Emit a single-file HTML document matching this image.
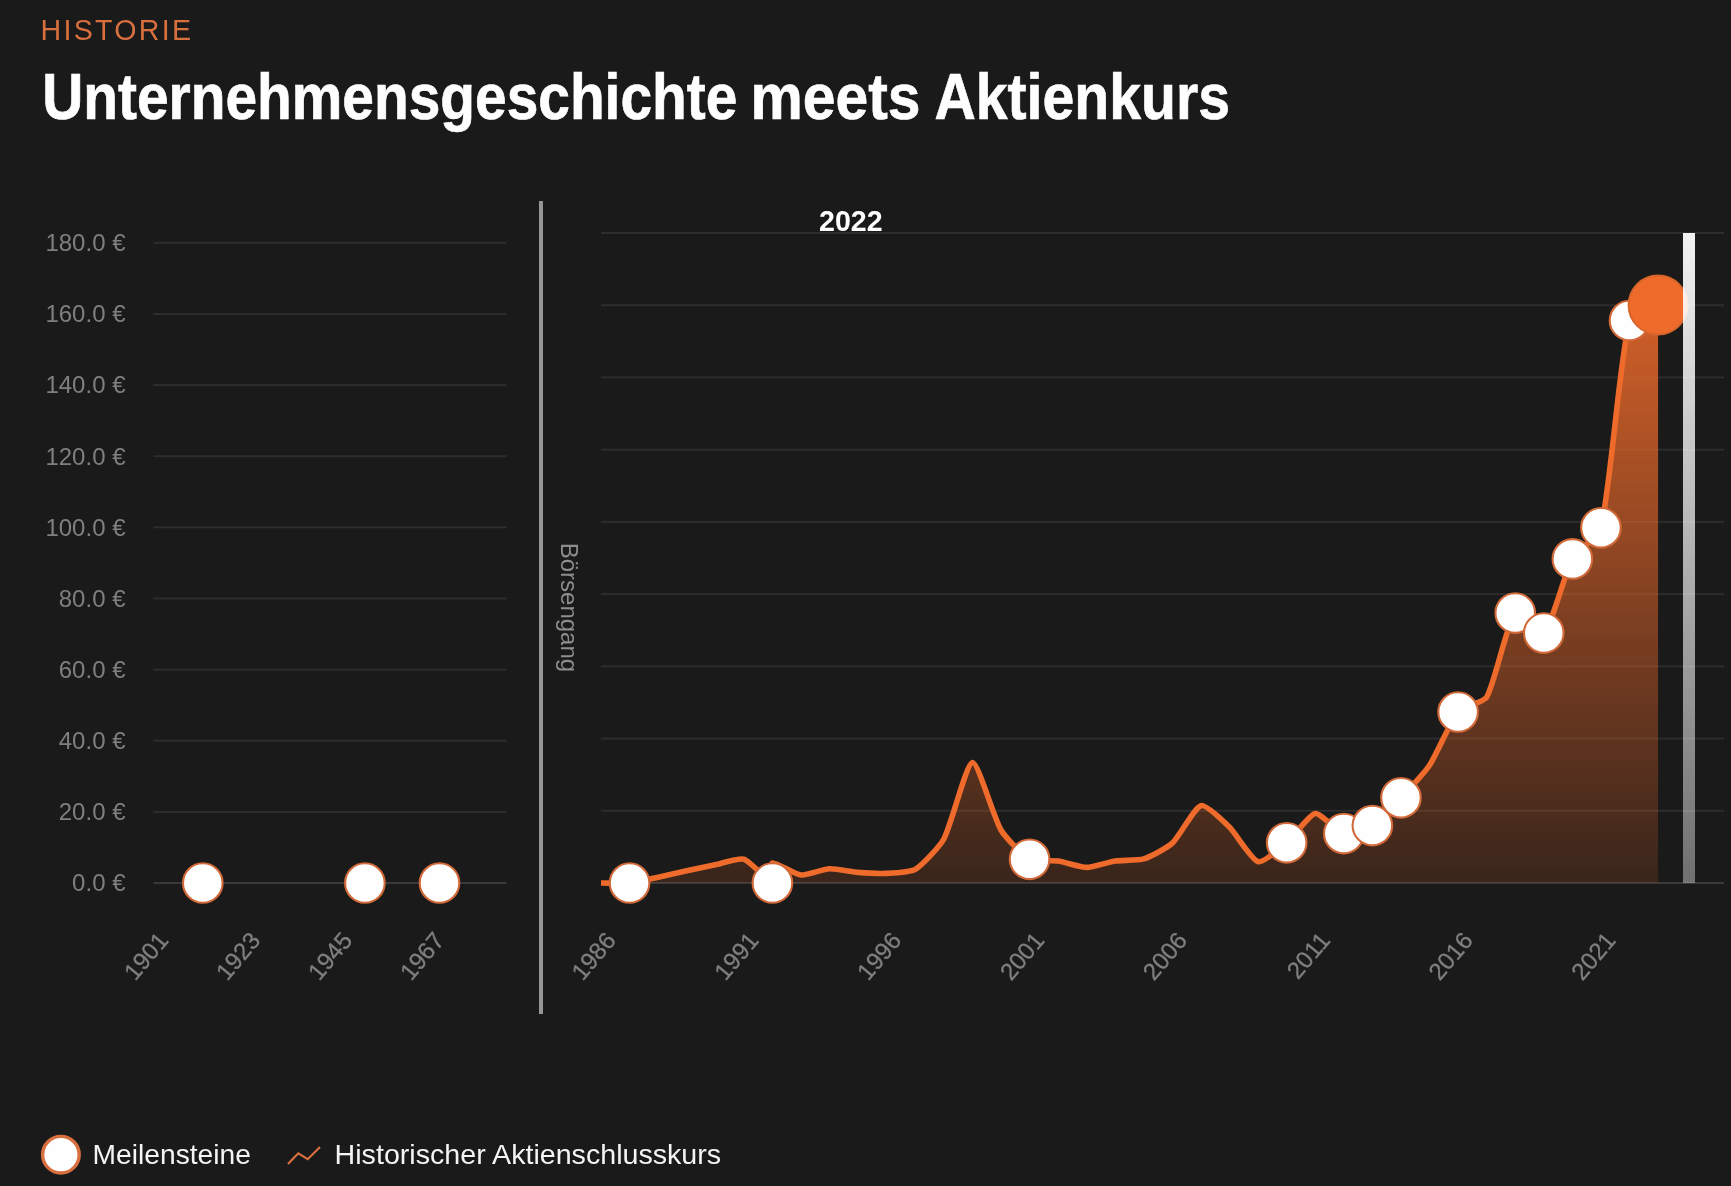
<!DOCTYPE html>
<html lang="de"><head><meta charset="utf-8"><title>Historie</title>
<style>
html,body{margin:0;padding:0;background:#1a1a1a;}
body{width:1731px;height:1186px;overflow:hidden;position:relative;font-family:"Liberation Sans",sans-serif;}
svg{position:absolute;left:0;top:0;display:block;}
text{font-family:"Liberation Sans",sans-serif;}
</style></head><body>
<svg width="1731" height="1186" viewBox="0 0 1731 1186">
<defs>
<linearGradient id="fillg" gradientUnits="userSpaceOnUse" x1="0" y1="233" x2="0" y2="883">
<stop offset="0" stop-color="#f06c2c" stop-opacity="0.95"/>
<stop offset="1" stop-color="#f06c2c" stop-opacity="0.15"/>
</linearGradient>
<linearGradient id="barg" gradientUnits="userSpaceOnUse" x1="0" y1="233" x2="0" y2="883">
<stop offset="0" stop-color="#ffffff" stop-opacity="0.95"/>
<stop offset="1" stop-color="#ffffff" stop-opacity="0.38"/>
</linearGradient>
</defs>
<rect width="1731" height="1186" fill="#1a1a1a"/>
<g style="opacity:0.999">
<text x="40.5" y="39.9" font-size="28.6" fill="#d9703f" letter-spacing="2.3">HISTORIE</text>
<text x="42.3" y="119.3" font-size="64" font-weight="700" fill="#ffffff" stroke="#ffffff" stroke-width="0.7" textLength="695" lengthAdjust="spacingAndGlyphs">Unternehmensgeschichte</text>
<text x="750.5" y="119.3" font-size="64" font-weight="700" fill="#ffffff" stroke="#ffffff" stroke-width="0.7" textLength="170" lengthAdjust="spacingAndGlyphs">meets</text>
<text x="934.4" y="119.3" font-size="64" font-weight="700" fill="#ffffff" stroke="#ffffff" stroke-width="0.7" textLength="295.6" lengthAdjust="spacingAndGlyphs">Aktienkurs</text>
<rect x="153.5" y="882.00" width="353" height="2" fill="#3a3a3a"/>
<text x="125.5" y="891.30" font-size="24" fill="#808080" text-anchor="end">0.0 €</text>
<rect x="153.5" y="810.87" width="353" height="2" fill="#2e2e2e"/>
<text x="125.5" y="820.17" font-size="24" fill="#808080" text-anchor="end">20.0 €</text>
<rect x="153.5" y="739.74" width="353" height="2" fill="#2e2e2e"/>
<text x="125.5" y="749.04" font-size="24" fill="#808080" text-anchor="end">40.0 €</text>
<rect x="153.5" y="668.61" width="353" height="2" fill="#2e2e2e"/>
<text x="125.5" y="677.91" font-size="24" fill="#808080" text-anchor="end">60.0 €</text>
<rect x="153.5" y="597.48" width="353" height="2" fill="#2e2e2e"/>
<text x="125.5" y="606.78" font-size="24" fill="#808080" text-anchor="end">80.0 €</text>
<rect x="153.5" y="526.35" width="353" height="2" fill="#2e2e2e"/>
<text x="125.5" y="535.65" font-size="24" fill="#808080" text-anchor="end">100.0 €</text>
<rect x="153.5" y="455.22" width="353" height="2" fill="#2e2e2e"/>
<text x="125.5" y="464.52" font-size="24" fill="#808080" text-anchor="end">120.0 €</text>
<rect x="153.5" y="384.09" width="353" height="2" fill="#2e2e2e"/>
<text x="125.5" y="393.39" font-size="24" fill="#808080" text-anchor="end">140.0 €</text>
<rect x="153.5" y="312.96" width="353" height="2" fill="#2e2e2e"/>
<text x="125.5" y="322.26" font-size="24" fill="#808080" text-anchor="end">160.0 €</text>
<rect x="153.5" y="241.83" width="353" height="2" fill="#2e2e2e"/>
<text x="125.5" y="251.13" font-size="24" fill="#808080" text-anchor="end">180.0 €</text>
<text transform="translate(163.10 935.6) rotate(-50)" x="0" y="8.3" font-size="24" fill="#808080" stroke="#808080" stroke-width="0.3" text-anchor="end">1901</text>
<text transform="translate(255.10 935.6) rotate(-50)" x="0" y="8.3" font-size="24" fill="#808080" stroke="#808080" stroke-width="0.3" text-anchor="end">1923</text>
<text transform="translate(347.10 935.6) rotate(-50)" x="0" y="8.3" font-size="24" fill="#808080" stroke="#808080" stroke-width="0.3" text-anchor="end">1945</text>
<text transform="translate(439.10 935.6) rotate(-50)" x="0" y="8.3" font-size="24" fill="#808080" stroke="#808080" stroke-width="0.3" text-anchor="end">1967</text>
<circle cx="202.8" cy="883" r="19.8" fill="#ffffff" stroke="#d26a3a" stroke-width="2.1"/>
<circle cx="364.9" cy="883" r="19.8" fill="#ffffff" stroke="#d26a3a" stroke-width="2.1"/>
<circle cx="439.5" cy="883" r="19.8" fill="#ffffff" stroke="#d26a3a" stroke-width="2.1"/>
<rect x="539" y="201" width="4" height="813" fill="#979797"/>
<text transform="translate(560.6 542.7) rotate(90)" font-size="24" fill="#8e8e8e">Börsengang</text>
<rect x="601" y="882.00" width="1123" height="2" fill="#3a3a3a"/>
<rect x="601" y="809.78" width="1123" height="2" fill="#2e2e2e"/>
<rect x="601" y="737.56" width="1123" height="2" fill="#2e2e2e"/>
<rect x="601" y="665.33" width="1123" height="2" fill="#2e2e2e"/>
<rect x="601" y="593.11" width="1123" height="2" fill="#2e2e2e"/>
<rect x="601" y="520.89" width="1123" height="2" fill="#2e2e2e"/>
<rect x="601" y="448.67" width="1123" height="2" fill="#2e2e2e"/>
<rect x="601" y="376.44" width="1123" height="2" fill="#2e2e2e"/>
<rect x="601" y="304.22" width="1123" height="2" fill="#2e2e2e"/>
<rect x="601" y="232.00" width="1123" height="2" fill="#2e2e2e"/>
<text transform="translate(610.60 935.6) rotate(-50)" x="0" y="8.3" font-size="24" fill="#808080" stroke="#808080" stroke-width="0.3" text-anchor="end">1986</text>
<text transform="translate(753.45 935.6) rotate(-50)" x="0" y="8.3" font-size="24" fill="#808080" stroke="#808080" stroke-width="0.3" text-anchor="end">1991</text>
<text transform="translate(896.30 935.6) rotate(-50)" x="0" y="8.3" font-size="24" fill="#808080" stroke="#808080" stroke-width="0.3" text-anchor="end">1996</text>
<text transform="translate(1039.15 935.6) rotate(-50)" x="0" y="8.3" font-size="24" fill="#808080" stroke="#808080" stroke-width="0.3" text-anchor="end">2001</text>
<text transform="translate(1182.00 935.6) rotate(-50)" x="0" y="8.3" font-size="24" fill="#808080" stroke="#808080" stroke-width="0.3" text-anchor="end">2006</text>
<text transform="translate(1324.85 935.6) rotate(-50)" x="0" y="8.3" font-size="24" fill="#808080" stroke="#808080" stroke-width="0.3" text-anchor="end">2011</text>
<text transform="translate(1467.70 935.6) rotate(-50)" x="0" y="8.3" font-size="24" fill="#808080" stroke="#808080" stroke-width="0.3" text-anchor="end">2016</text>
<text transform="translate(1610.55 935.6) rotate(-50)" x="0" y="8.3" font-size="24" fill="#808080" stroke="#808080" stroke-width="0.3" text-anchor="end">2021</text>
<text x="819" y="231.3" font-size="29" font-weight="700" fill="#ffffff" textLength="63.6" lengthAdjust="spacingAndGlyphs">2022</text>
<path d="M601.00 883.00 C606.71 883.00 623.91 883.57 629.57 883.00 C635.34 882.41 652.44 878.42 658.14 877.20 C663.87 875.98 680.99 872.04 686.71 870.80 C692.42 869.56 709.56 865.96 715.28 864.80 C720.99 863.64 738.83 857.60 743.85 859.20 C750.26 861.24 768.70 882.51 772.42 883.00 C774.42 883.27 770.18 863.63 772.42 863.00 C775.89 862.03 795.11 874.40 800.99 875.00 C806.54 875.56 823.80 869.06 829.56 868.80 C835.23 868.54 852.40 871.94 858.13 872.40 C863.82 872.86 881.01 873.70 886.70 873.40 C892.44 873.10 910.60 872.21 915.27 869.40 C922.03 865.33 939.97 846.23 943.84 839.00 C951.40 824.87 966.39 763.55 972.41 762.60 C977.82 761.75 993.65 817.59 1000.98 830.00 C1005.08 836.93 1022.83 855.65 1029.55 859.30 C1034.25 861.85 1052.47 860.20 1058.12 861.00 C1063.90 861.82 1080.98 867.40 1086.69 867.40 C1092.40 867.40 1109.48 861.86 1115.26 861.00 C1120.91 860.16 1138.49 860.57 1143.83 858.90 C1149.92 856.99 1167.72 847.46 1172.40 843.10 C1179.15 836.82 1194.48 807.49 1200.97 805.70 C1205.91 804.33 1224.46 822.32 1229.54 827.30 C1235.89 833.52 1251.64 859.94 1258.11 861.70 C1263.07 863.04 1281.47 847.19 1286.68 842.80 C1292.90 837.55 1309.08 814.49 1315.25 813.50 C1320.51 812.65 1337.64 832.29 1343.82 833.60 C1349.07 834.71 1367.51 828.66 1372.39 825.60 C1378.94 821.50 1395.48 803.58 1400.96 797.80 C1406.91 791.52 1424.76 772.46 1429.53 765.30 C1436.19 755.30 1450.64 720.90 1458.10 712.00 C1462.07 707.26 1483.63 702.37 1486.67 697.10 C1495.05 682.59 1507.04 622.29 1515.24 613.10 C1518.46 609.49 1540.33 636.40 1543.81 633.10 C1551.75 625.56 1564.92 572.65 1572.38 558.90 C1576.34 551.59 1599.03 535.81 1600.95 527.80 C1610.46 488.13 1619.63 359.07 1629.52 320.50 C1631.06 314.51 1652.38 308.10 1658.09 305.00 L1658.09 883.00 L601.00 883.00 Z" fill="url(#fillg)"/>
<path d="M601.00 883.00 C606.71 883.00 623.91 883.57 629.57 883.00 C635.34 882.41 652.44 878.42 658.14 877.20 C663.87 875.98 680.99 872.04 686.71 870.80 C692.42 869.56 709.56 865.96 715.28 864.80 C720.99 863.64 738.83 857.60 743.85 859.20 C750.26 861.24 768.70 882.51 772.42 883.00 C774.42 883.27 770.18 863.63 772.42 863.00 C775.89 862.03 795.11 874.40 800.99 875.00 C806.54 875.56 823.80 869.06 829.56 868.80 C835.23 868.54 852.40 871.94 858.13 872.40 C863.82 872.86 881.01 873.70 886.70 873.40 C892.44 873.10 910.60 872.21 915.27 869.40 C922.03 865.33 939.97 846.23 943.84 839.00 C951.40 824.87 966.39 763.55 972.41 762.60 C977.82 761.75 993.65 817.59 1000.98 830.00 C1005.08 836.93 1022.83 855.65 1029.55 859.30 C1034.25 861.85 1052.47 860.20 1058.12 861.00 C1063.90 861.82 1080.98 867.40 1086.69 867.40 C1092.40 867.40 1109.48 861.86 1115.26 861.00 C1120.91 860.16 1138.49 860.57 1143.83 858.90 C1149.92 856.99 1167.72 847.46 1172.40 843.10 C1179.15 836.82 1194.48 807.49 1200.97 805.70 C1205.91 804.33 1224.46 822.32 1229.54 827.30 C1235.89 833.52 1251.64 859.94 1258.11 861.70 C1263.07 863.04 1281.47 847.19 1286.68 842.80 C1292.90 837.55 1309.08 814.49 1315.25 813.50 C1320.51 812.65 1337.64 832.29 1343.82 833.60 C1349.07 834.71 1367.51 828.66 1372.39 825.60 C1378.94 821.50 1395.48 803.58 1400.96 797.80 C1406.91 791.52 1424.76 772.46 1429.53 765.30 C1436.19 755.30 1450.64 720.90 1458.10 712.00 C1462.07 707.26 1483.63 702.37 1486.67 697.10 C1495.05 682.59 1507.04 622.29 1515.24 613.10 C1518.46 609.49 1540.33 636.40 1543.81 633.10 C1551.75 625.56 1564.92 572.65 1572.38 558.90 C1576.34 551.59 1599.03 535.81 1600.95 527.80 C1610.46 488.13 1619.63 359.07 1629.52 320.50 C1631.06 314.51 1652.38 308.10 1658.09 305.00" fill="none" stroke="#f06c2c" stroke-width="5.6" stroke-linejoin="miter" stroke-linecap="butt"/>
<circle cx="629.57" cy="883.00" r="19.8" fill="#ffffff" stroke="#d26a3a" stroke-width="2.1"/>
<circle cx="772.42" cy="883.00" r="19.8" fill="#ffffff" stroke="#d26a3a" stroke-width="2.1"/>
<circle cx="1029.55" cy="859.30" r="19.8" fill="#ffffff" stroke="#d26a3a" stroke-width="2.1"/>
<circle cx="1286.68" cy="842.80" r="19.8" fill="#ffffff" stroke="#d26a3a" stroke-width="2.1"/>
<circle cx="1343.82" cy="833.60" r="19.8" fill="#ffffff" stroke="#d26a3a" stroke-width="2.1"/>
<circle cx="1372.39" cy="825.60" r="19.8" fill="#ffffff" stroke="#d26a3a" stroke-width="2.1"/>
<circle cx="1400.96" cy="797.80" r="19.8" fill="#ffffff" stroke="#d26a3a" stroke-width="2.1"/>
<circle cx="1458.10" cy="712.00" r="19.8" fill="#ffffff" stroke="#d26a3a" stroke-width="2.1"/>
<circle cx="1515.24" cy="613.10" r="19.8" fill="#ffffff" stroke="#d26a3a" stroke-width="2.1"/>
<circle cx="1543.81" cy="633.10" r="19.8" fill="#ffffff" stroke="#d26a3a" stroke-width="2.1"/>
<circle cx="1572.38" cy="558.90" r="19.8" fill="#ffffff" stroke="#d26a3a" stroke-width="2.1"/>
<circle cx="1600.95" cy="527.80" r="19.8" fill="#ffffff" stroke="#d26a3a" stroke-width="2.1"/>
<circle cx="1629.52" cy="320.50" r="19.8" fill="#ffffff" stroke="#d26a3a" stroke-width="2.1"/>
<circle cx="1658.09" cy="305" r="29.5" fill="#f06c2c" stroke="#d9662c" stroke-width="2"/>
<rect x="1683" y="233" width="12" height="650" fill="url(#barg)"/>
<circle cx="60.9" cy="1154.7" r="18.3" fill="#ffffff" stroke="#d9703f" stroke-width="3.4"/>
<text x="92.6" y="1164" font-size="28" fill="#f5f5f5" textLength="158.3" lengthAdjust="spacingAndGlyphs">Meilensteine</text>
<path d="M288 1164 L298.3 1153.3 L307.7 1159.2 L320 1147" fill="none" stroke="#d9703f" stroke-width="2.2"/>
<text x="334.6" y="1164" font-size="28" fill="#f5f5f5" textLength="386.5" lengthAdjust="spacingAndGlyphs">Historischer Aktienschlusskurs</text>
</g>
</svg>
</body></html>
